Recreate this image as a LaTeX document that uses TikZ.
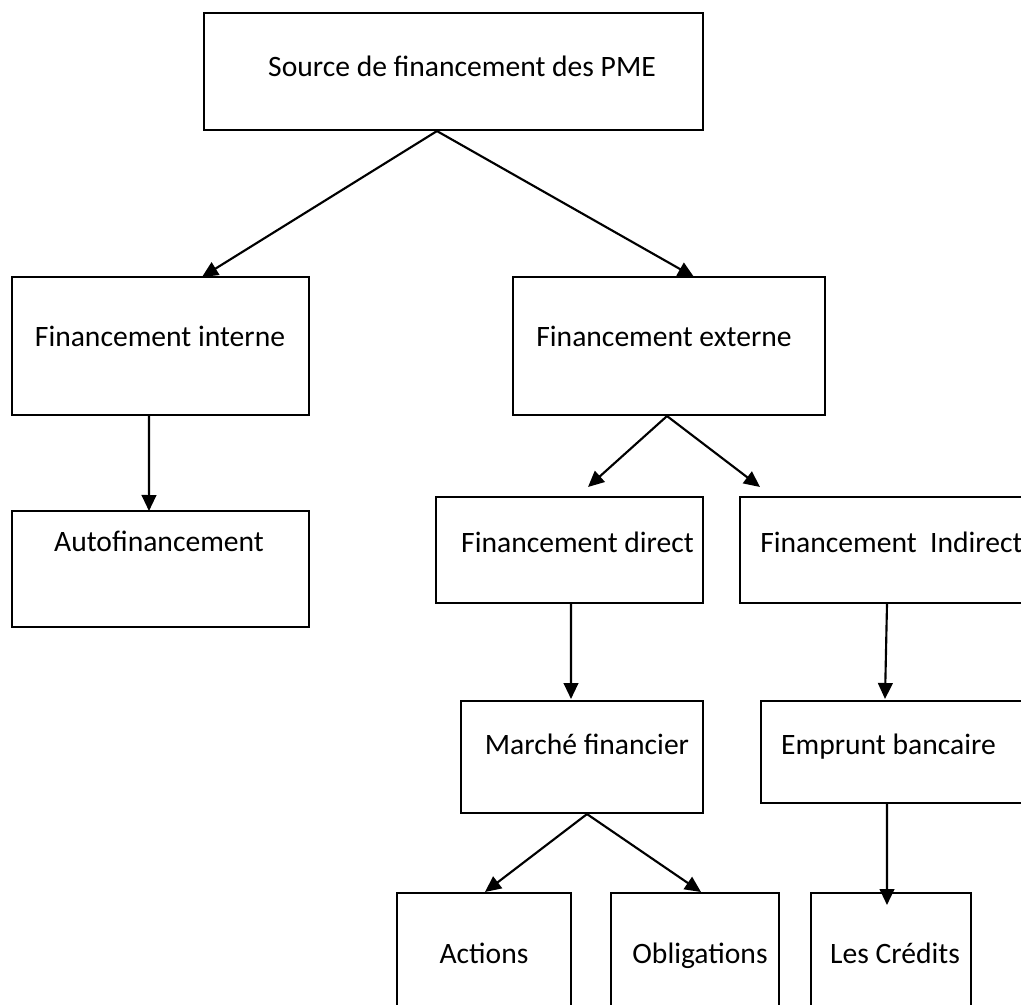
\documentclass[tikz,border=0pt]{standalone}
\usepackage{fontspec}
\setmainfont{Carlito}
\usetikzlibrary{arrows.meta}

\begin{document}
\begin{tikzpicture}[x=0.75pt,y=-0.75pt,
  boite/.style={rectangle, draw=black, line width=1.6pt, inner sep=0pt},
  texte/.style={anchor=base, inner sep=0pt, font=\fontsize{22.2}{27}\selectfont},
  fleche/.style={line width=1.6pt, -{Triangle[length=12pt,width=11pt]}}]
\useasboundingbox (0,0) rectangle (1021,1005);
\clip (0,0) rectangle (1021,1005);

% les cadres
\node [boite, minimum width=374.25pt, minimum height=87.75pt] (haut) at (453.5,71.5) {};
\node [boite, minimum width=222.75pt, minimum height=103.5pt] (interne) at (160.5,346) {};
\node [boite, minimum width=234pt, minimum height=103.5pt] (externe) at (669,346) {};
\node [boite, minimum width=222.75pt, minimum height=87pt] (auto) at (160.5,569) {};
\node [boite, minimum width=200.25pt, minimum height=79.5pt] (direct) at (569.5,550) {};
\node [boite, minimum width=225pt, minimum height=79.5pt] (indirect) at (890,550) {};
\node [boite, minimum width=181.5pt, minimum height=84pt] (marche) at (582,757) {};
\node [boite, minimum width=209.25pt, minimum height=76.5pt] (emprunt) at (900.5,752) {};
\node [boite, minimum width=130.5pt, minimum height=95.25pt] (actions) at (484,956.5) {};
\node [boite, minimum width=126pt, minimum height=95.25pt] (oblig) at (695,956.5) {};
\node [boite, minimum width=120pt, minimum height=95.25pt] (credits) at (891,956.5) {};

% les textes
\node [texte] (t-haut) at (462,77) {Source de financement des PME};
\node [texte] (t-interne) at (160,347) {Financement interne};
\node [texte] (t-externe) at (664,347) {Financement externe};
\node [texte] (t-auto) at (159,551) {Autofinancement};
\node [texte] (t-direct) at (577.5,552) {Financement direct};
\node [texte, anchor=base west] (t-indirect) at (760,552) {Financement\ \ Indirect};
\node [texte] (t-marche) at (587,754) {Marché financier};
\node [texte] (t-emprunt) at (888.5,754) {Emprunt bancaire};
\node [texte] (t-actions) at (484,963) {Actions};
\node [texte] (t-oblig) at (700,963) {Obligations};
\node [texte] (t-credits) at (895,963) {Les Crédits};

% bouts des fleches
\coordinate (p-interne) at (202,277);
\coordinate (p-externe) at (694,277);
\coordinate (p-auto) at (149,511);
\coordinate (p-direct) at (588,487);
\coordinate (p-indirect) at (760,487);
\coordinate (p-marche) at (571,699);
\coordinate (p-emprunt) at (885,699);
\coordinate (p-actions) at (485,892);
\coordinate (p-oblig) at (701,892);
\coordinate (p-credits) at (887,905);

% les fleches
\draw [fleche] ([xshift=-12.4pt]haut.south) -- (p-interne);
\draw [fleche] ([xshift=-12.4pt]haut.south) -- (p-externe);
\draw [fleche] ([xshift=-8.6pt]interne.south) -- (p-auto);
\draw [fleche] ([xshift=-1.5pt]externe.south) -- (p-direct);
\draw [fleche] ([xshift=-1.5pt]externe.south) -- (p-indirect);
\draw [fleche] ([xshift=1.1pt]direct.south) -- (p-marche);
\draw [fleche] ([xshift=-2.25pt]indirect.south) -- (p-emprunt);
\draw [fleche] ([xshift=3.75pt]marche.south) -- (p-actions);
\draw [fleche] ([xshift=3.75pt]marche.south) -- (p-oblig);
\draw [fleche] ([xshift=-10.1pt]emprunt.south) -- (p-credits);
\end{tikzpicture}
\end{document}
